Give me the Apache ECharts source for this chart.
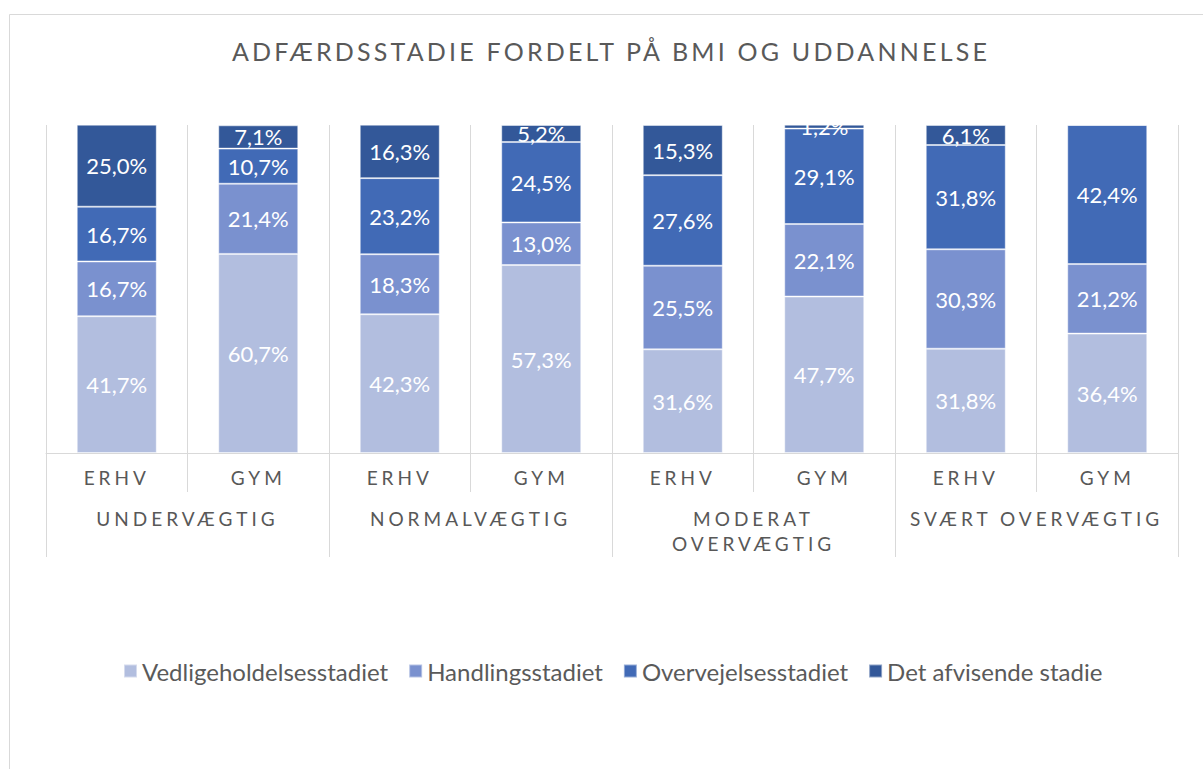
<!DOCTYPE html>
<html>
<head>
<meta charset="utf-8">
<script src="https://cdn.jsdelivr.net/npm/echarts@6/dist/echarts.min.js"></script>
<style>
    html, body { margin: 0; padding: 0; background: #fff; }
    #chart { width: 1203px; height: 769px; }
    /* spaced capitals for title and axis labels (svg renderer) */
    #chart text[fill="#595959"] { letter-spacing: 3.2px; }
    #chart text[fill="#585858"] { letter-spacing: 4px; }
</style>
</head>
<body>
<div id="chart"></div>
<script>
// data
const groups = ['UNDERVÆGTIG', 'NORMALVÆGTIG', 'MODERAT\nOVERVÆGTIG', 'SVÆRT OVERVÆGTIG'];
const categories = ['ERHV', 'GYM', 'ERHV', 'GYM', 'ERHV', 'GYM', 'ERHV', 'GYM'];
const seriesNames = ['Vedligeholdelsesstadiet', 'Handlingsstadiet', 'Overvejelsesstadiet', 'Det afvisende stadie'];
const vedligehold = [41.7, 60.7, 42.3, 57.3, 31.6, 47.7, 31.8, 36.4];
const handling = [16.7, 21.4, 18.3, 13.0, 25.5, 22.1, 30.3, 21.2];
const overvejelse = [16.7, 10.7, 23.2, 24.5, 27.6, 29.1, 31.8, 42.4];
const afvisende = [25.0, 7.1, 16.3, 5.2, 15.3, 1.2, 6.1, 0];

const colors = ['#B2BEDF', '#7A91CF', '#416AB6', '#335899'];
const gridColor = '#D9D9D9';
const fontFamily = 'Lato, "Noto Sans", sans-serif';

const chart = echarts.init(document.getElementById('chart'), null, { renderer: 'svg' });

const makeSeries = (name, data, i) => ({
    name,
    type: 'bar',
    stack: 'total',
    data,
    barWidth: 80,
    itemStyle: {
        color: colors[i],
        borderColor: 'rgba(255,255,255,0.45)',
        borderWidth: 1,
    },
    label: {
        show: true,
        position: 'inside',
        color: '#ffffff',
        fontSize: 22,
        fontFamily,
        formatter: (p) => (p.value > 0 ? p.value.toFixed(1).replace('.', ',') + '%' : ''),
    },
});

const option = {
    title: {
        text: 'ADFÆRDSSTADIE FORDELT PÅ BMI OG UDDANNELSE',
        left: 606,
        textAlign: 'center',
        top: 33,
        textStyle: {
            color: '#595959',
            fontSize: 25,
            fontWeight: 'normal',
            fontFamily,
        },
    },
    graphic: [
        {
            type: 'rect',
            shape: { x: 9.5, y: 14.5, width: 1210, height: 800 },
            style: { fill: 'none', stroke: gridColor, lineWidth: 1 },
            silent: true,
        },
    ],
    legend: {
        data: seriesNames,
        left: 118,
        top: 654,
        icon: 'rect',
        itemWidth: 13,
        itemHeight: 13,
        itemGap: 20,
        textStyle: {
            color: '#5A5A5A',
            fontSize: 24,
            fontFamily,
        },
    },
    grid: {
        left: 46,
        right: 25,
        top: 125,
        bottom: 316,
        containLabel: false,
    },
    xAxis: [
        {
            type: 'category',
            data: categories,
            position: 'bottom',
            axisLine: { show: true, lineStyle: { color: gridColor, width: 1 } },
            axisTick: { show: true, length: 39, lineStyle: { color: gridColor } },
            splitLine: { show: true, lineStyle: { color: gridColor } },
            axisLabel: {
                color: '#585858',
                fontSize: 19,
                fontFamily,
                margin: 15,
                interval: 0,
            },
        },
        {
            type: 'category',
            data: groups,
            position: 'bottom',
            axisLine: { show: false },
            axisTick: { show: true, length: 104, lineStyle: { color: gridColor } },
            axisLabel: {
                color: '#585858',
                fontSize: 19,
                fontFamily,
                margin: 53,
                lineHeight: 25,
                interval: 0,
            },
        },
    ],
    yAxis: {
        type: 'value',
        min: 0,
        max: 100,
        show: false,
    },
    series: [
        makeSeries(seriesNames[0], vedligehold, 0),
        makeSeries(seriesNames[1], handling, 1),
        makeSeries(seriesNames[2], overvejelse, 2),
        makeSeries(seriesNames[3], afvisende, 3),
    ],
};

chart.setOption(option);
</script>
</body>
</html>
